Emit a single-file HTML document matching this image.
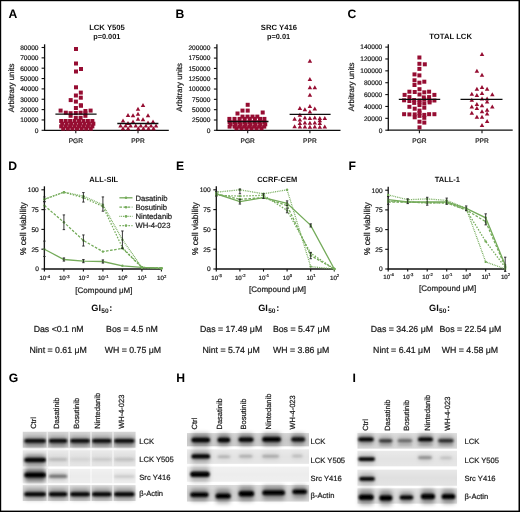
<!DOCTYPE html>
<html><head><meta charset="utf-8"><style>
html,body{margin:0;padding:0;background:#fff;width:520px;height:512px;overflow:hidden}
svg{display:block;will-change:transform}
text{text-rendering:geometricPrecision;font-family:'Liberation Sans',sans-serif}
text:not([font-weight]){stroke:#222;stroke-width:0.22px}
</style></head><body>
<svg width="520" height="512" viewBox="0 0 520 512">
<defs><filter id="soft" x="0" y="0" width="100%" height="100%" filterUnits="userSpaceOnUse"><feGaussianBlur stdDeviation="0.35"/></filter></defs>
<g filter="url(#soft)">
<rect x="0" y="0" width="520" height="512" fill="#000"/>
<rect x="1.2" y="1.2" width="517.3" height="509.4" fill="#fff"/>
<text x="8.6" y="17.6" font-size="12.2" text-anchor="start" font-weight="bold" fill="#000" >A</text>
<text x="175.6" y="17.6" font-size="12.2" text-anchor="start" font-weight="bold" fill="#000" >B</text>
<text x="347.4" y="17.6" font-size="12.2" text-anchor="start" font-weight="bold" fill="#000" >C</text>
<text x="8.2" y="169.6" font-size="12.2" text-anchor="start" font-weight="bold" fill="#000" >D</text>
<text x="176" y="169.6" font-size="12.2" text-anchor="start" font-weight="bold" fill="#000" >E</text>
<text x="348.4" y="169.6" font-size="12.2" text-anchor="start" font-weight="bold" fill="#000" >F</text>
<text x="8.8" y="382" font-size="12.2" text-anchor="start" font-weight="bold" fill="#000" >G</text>
<text x="176.2" y="382" font-size="12.2" text-anchor="start" font-weight="bold" fill="#000" >H</text>
<text x="352.4" y="381.6" font-size="12.2" text-anchor="start" font-weight="bold" fill="#000" >I</text>
<text x="107" y="30.4" font-size="7.7" text-anchor="middle" font-weight="bold" fill="#111" >LCK Y505</text>
<text x="106.8" y="39.4" font-size="7.4" text-anchor="middle" font-weight="bold" fill="#111" >p=0.001</text>
<line x1="44.6" y1="44.3" x2="44.6" y2="130.9" stroke="#111" stroke-width="1.3" />
<line x1="44.0" y1="130.3" x2="168.8" y2="130.3" stroke="#111" stroke-width="1.3" />
<line x1="41.6" y1="130.3" x2="44.6" y2="130.3" stroke="#111" stroke-width="1.1" />
<text x="38.5" y="132.60000000000002" font-size="6.6" text-anchor="end" fill="#222" >0</text>
<line x1="41.6" y1="119.95000000000002" x2="44.6" y2="119.95000000000002" stroke="#111" stroke-width="1.1" />
<text x="38.5" y="122.25000000000001" font-size="6.6" text-anchor="end" fill="#222" >10000</text>
<line x1="41.6" y1="109.60000000000001" x2="44.6" y2="109.60000000000001" stroke="#111" stroke-width="1.1" />
<text x="38.5" y="111.9" font-size="6.6" text-anchor="end" fill="#222" >20000</text>
<line x1="41.6" y1="99.25" x2="44.6" y2="99.25" stroke="#111" stroke-width="1.1" />
<text x="38.5" y="101.55" font-size="6.6" text-anchor="end" fill="#222" >30000</text>
<line x1="41.6" y1="88.9" x2="44.6" y2="88.9" stroke="#111" stroke-width="1.1" />
<text x="38.5" y="91.2" font-size="6.6" text-anchor="end" fill="#222" >40000</text>
<line x1="41.6" y1="78.55000000000001" x2="44.6" y2="78.55000000000001" stroke="#111" stroke-width="1.1" />
<text x="38.5" y="80.85000000000001" font-size="6.6" text-anchor="end" fill="#222" >50000</text>
<line x1="41.6" y1="68.2" x2="44.6" y2="68.2" stroke="#111" stroke-width="1.1" />
<text x="38.5" y="70.5" font-size="6.6" text-anchor="end" fill="#222" >60000</text>
<line x1="41.6" y1="57.849999999999994" x2="44.6" y2="57.849999999999994" stroke="#111" stroke-width="1.1" />
<text x="38.5" y="60.14999999999999" font-size="6.6" text-anchor="end" fill="#222" >70000</text>
<line x1="41.6" y1="47.5" x2="44.6" y2="47.5" stroke="#111" stroke-width="1.1" />
<text x="38.5" y="49.8" font-size="6.6" text-anchor="end" fill="#222" >80000</text>
<text x="0" y="0" font-size="7.9" text-anchor="middle" fill="#222" transform="translate(13.6,88) rotate(-90)">Arbitrary units</text>
<line x1="75.8" y1="130.3" x2="75.8" y2="133.3" stroke="#111" stroke-width="1.1" />
<line x1="138" y1="130.3" x2="138" y2="133.3" stroke="#111" stroke-width="1.1" />
<text x="75.8" y="142.8" font-size="6.6" text-anchor="middle" fill="#222" >PGR</text>
<text x="138" y="142.8" font-size="6.6" text-anchor="middle" fill="#222" >PPR</text>
<rect x="74.00" y="47.00" width="4" height="4" fill="#960e32"/>
<rect x="74.00" y="61.50" width="4" height="4" fill="#960e32"/>
<rect x="79.00" y="67.00" width="4" height="4" fill="#960e32"/>
<rect x="74.00" y="69.50" width="4" height="4" fill="#960e32"/>
<rect x="74.00" y="85.30" width="4" height="4" fill="#960e32"/>
<rect x="78.80" y="90.60" width="4" height="4" fill="#960e32"/>
<rect x="73.90" y="93.50" width="4" height="4" fill="#960e32"/>
<rect x="78.80" y="95.70" width="4" height="4" fill="#960e32"/>
<rect x="68.70" y="98.10" width="4" height="4" fill="#960e32"/>
<rect x="73.90" y="99.60" width="4" height="4" fill="#960e32"/>
<rect x="78.80" y="103.30" width="4" height="4" fill="#960e32"/>
<rect x="73.90" y="106.00" width="4" height="4" fill="#960e32"/>
<rect x="79.00" y="103.70" width="4" height="4" fill="#960e32"/>
<rect x="58.60" y="108.60" width="4" height="4" fill="#960e32"/>
<rect x="83.40" y="109.00" width="4" height="4" fill="#960e32"/>
<rect x="88.60" y="108.60" width="4" height="4" fill="#960e32"/>
<rect x="63.80" y="110.70" width="4" height="4" fill="#960e32"/>
<rect x="68.60" y="111.20" width="4" height="4" fill="#960e32"/>
<rect x="73.80" y="111.00" width="4" height="4" fill="#960e32"/>
<rect x="78.60" y="110.70" width="4" height="4" fill="#960e32"/>
<rect x="83.40" y="111.20" width="4" height="4" fill="#960e32"/>
<rect x="68.60" y="113.80" width="4" height="4" fill="#960e32"/>
<rect x="83.40" y="113.80" width="4" height="4" fill="#960e32"/>
<rect x="73.80" y="115.80" width="4" height="4" fill="#960e32"/>
<rect x="78.60" y="115.80" width="4" height="4" fill="#960e32"/>
<rect x="59.20" y="119.00" width="4" height="4" fill="#960e32"/>
<rect x="63.65" y="119.00" width="4" height="4" fill="#960e32"/>
<rect x="68.10" y="119.00" width="4" height="4" fill="#960e32"/>
<rect x="72.55" y="119.00" width="4" height="4" fill="#960e32"/>
<rect x="77.00" y="119.00" width="4" height="4" fill="#960e32"/>
<rect x="81.45" y="119.00" width="4" height="4" fill="#960e32"/>
<rect x="85.90" y="119.00" width="4" height="4" fill="#960e32"/>
<rect x="90.35" y="119.00" width="4" height="4" fill="#960e32"/>
<rect x="60.20" y="121.70" width="4" height="4" fill="#960e32"/>
<rect x="64.65" y="121.70" width="4" height="4" fill="#960e32"/>
<rect x="69.10" y="121.70" width="4" height="4" fill="#960e32"/>
<rect x="73.55" y="121.70" width="4" height="4" fill="#960e32"/>
<rect x="78.00" y="121.70" width="4" height="4" fill="#960e32"/>
<rect x="82.45" y="121.70" width="4" height="4" fill="#960e32"/>
<rect x="86.90" y="121.70" width="4" height="4" fill="#960e32"/>
<rect x="91.35" y="121.70" width="4" height="4" fill="#960e32"/>
<rect x="59.20" y="124.40" width="4" height="4" fill="#960e32"/>
<rect x="63.65" y="124.40" width="4" height="4" fill="#960e32"/>
<rect x="68.10" y="124.40" width="4" height="4" fill="#960e32"/>
<rect x="72.55" y="124.40" width="4" height="4" fill="#960e32"/>
<rect x="77.00" y="124.40" width="4" height="4" fill="#960e32"/>
<rect x="81.45" y="124.40" width="4" height="4" fill="#960e32"/>
<rect x="85.90" y="124.40" width="4" height="4" fill="#960e32"/>
<rect x="90.35" y="124.40" width="4" height="4" fill="#960e32"/>
<rect x="61.20" y="126.60" width="4" height="4" fill="#960e32"/>
<rect x="65.80" y="126.60" width="4" height="4" fill="#960e32"/>
<rect x="70.40" y="126.60" width="4" height="4" fill="#960e32"/>
<rect x="75.00" y="126.60" width="4" height="4" fill="#960e32"/>
<rect x="79.60" y="126.60" width="4" height="4" fill="#960e32"/>
<rect x="84.20" y="126.60" width="4" height="4" fill="#960e32"/>
<rect x="88.80" y="126.60" width="4" height="4" fill="#960e32"/>
<line x1="55.4" y1="114.2" x2="96.6" y2="114.2" stroke="#111" stroke-width="1.3" />
<path d="M140.75 107.03L143.00 102.97L145.25 107.03Z" fill="#960e32"/>
<path d="M135.75 110.83L138.00 106.77L140.25 110.83Z" fill="#960e32"/>
<path d="M125.75 117.03L128.00 112.97L130.25 117.03Z" fill="#960e32"/>
<path d="M130.75 117.33L133.00 113.27L135.25 117.33Z" fill="#960e32"/>
<path d="M135.75 115.83L138.00 111.77L140.25 115.83Z" fill="#960e32"/>
<path d="M145.75 117.33L148.00 113.27L150.25 117.33Z" fill="#960e32"/>
<path d="M120.75 122.43L123.00 118.38L125.25 122.43Z" fill="#960e32"/>
<path d="M135.75 120.83L138.00 116.77L140.25 120.83Z" fill="#960e32"/>
<path d="M140.75 121.33L143.00 117.27L145.25 121.33Z" fill="#960e32"/>
<path d="M125.75 125.03L128.00 120.97L130.25 125.03Z" fill="#960e32"/>
<path d="M145.75 124.43L148.00 120.38L150.25 124.43Z" fill="#960e32"/>
<path d="M130.75 123.53L133.00 119.47L135.25 123.53Z" fill="#960e32"/>
<path d="M150.75 123.53L153.00 119.47L155.25 123.53Z" fill="#960e32"/>
<path d="M118.25 127.62L120.50 123.57L122.75 127.62Z" fill="#960e32"/>
<path d="M123.35 127.62L125.60 123.57L127.85 127.62Z" fill="#960e32"/>
<path d="M128.35 127.62L130.60 123.57L132.85 127.62Z" fill="#960e32"/>
<path d="M133.45 127.62L135.70 123.57L137.95 127.62Z" fill="#960e32"/>
<path d="M138.55 127.62L140.80 123.57L143.05 127.62Z" fill="#960e32"/>
<path d="M143.65 127.62L145.90 123.57L148.15 127.62Z" fill="#960e32"/>
<path d="M148.75 127.62L151.00 123.57L153.25 127.62Z" fill="#960e32"/>
<path d="M153.75 127.62L156.00 123.57L158.25 127.62Z" fill="#960e32"/>
<path d="M120.75 130.22L123.00 126.17L125.25 130.22Z" fill="#960e32"/>
<path d="M125.85 130.22L128.10 126.17L130.35 130.22Z" fill="#960e32"/>
<path d="M136.05 130.22L138.30 126.17L140.55 130.22Z" fill="#960e32"/>
<path d="M141.15 130.22L143.40 126.17L145.65 130.22Z" fill="#960e32"/>
<path d="M146.25 130.22L148.50 126.17L150.75 130.22Z" fill="#960e32"/>
<path d="M151.25 130.22L153.50 126.17L155.75 130.22Z" fill="#960e32"/>
<line x1="117.3" y1="123.5" x2="158.4" y2="123.5" stroke="#111" stroke-width="1.3" />
<text x="278.9" y="30.4" font-size="7.7" text-anchor="middle" font-weight="bold" fill="#111" >SRC Y416</text>
<text x="278.5" y="39.4" font-size="7.4" text-anchor="middle" font-weight="bold" fill="#111" >p=0.01</text>
<line x1="216.9" y1="44.3" x2="216.9" y2="130.9" stroke="#111" stroke-width="1.3" />
<line x1="216.3" y1="130.3" x2="340.5" y2="130.3" stroke="#111" stroke-width="1.3" />
<line x1="213.9" y1="130.3" x2="216.9" y2="130.3" stroke="#111" stroke-width="1.1" />
<text x="210.4" y="132.60000000000002" font-size="6.6" text-anchor="end" fill="#222" >0</text>
<line x1="213.9" y1="119.98750000000001" x2="216.9" y2="119.98750000000001" stroke="#111" stroke-width="1.1" />
<text x="210.4" y="122.28750000000001" font-size="6.6" text-anchor="end" fill="#222" >25000</text>
<line x1="213.9" y1="109.67500000000001" x2="216.9" y2="109.67500000000001" stroke="#111" stroke-width="1.1" />
<text x="210.4" y="111.97500000000001" font-size="6.6" text-anchor="end" fill="#222" >50000</text>
<line x1="213.9" y1="99.36250000000001" x2="216.9" y2="99.36250000000001" stroke="#111" stroke-width="1.1" />
<text x="210.4" y="101.66250000000001" font-size="6.6" text-anchor="end" fill="#222" >75000</text>
<line x1="213.9" y1="89.05000000000001" x2="216.9" y2="89.05000000000001" stroke="#111" stroke-width="1.1" />
<text x="210.4" y="91.35000000000001" font-size="6.6" text-anchor="end" fill="#222" >100000</text>
<line x1="213.9" y1="78.73750000000001" x2="216.9" y2="78.73750000000001" stroke="#111" stroke-width="1.1" />
<text x="210.4" y="81.03750000000001" font-size="6.6" text-anchor="end" fill="#222" >125000</text>
<line x1="213.9" y1="68.425" x2="216.9" y2="68.425" stroke="#111" stroke-width="1.1" />
<text x="210.4" y="70.725" font-size="6.6" text-anchor="end" fill="#222" >150000</text>
<line x1="213.9" y1="58.1125" x2="216.9" y2="58.1125" stroke="#111" stroke-width="1.1" />
<text x="210.4" y="60.412499999999994" font-size="6.6" text-anchor="end" fill="#222" >175000</text>
<line x1="213.9" y1="47.8" x2="216.9" y2="47.8" stroke="#111" stroke-width="1.1" />
<text x="210.4" y="50.099999999999994" font-size="6.6" text-anchor="end" fill="#222" >200000</text>
<text x="0" y="0" font-size="7.9" text-anchor="middle" fill="#222" transform="translate(181.9,87.4) rotate(-90)">Arbitrary units</text>
<line x1="247.7" y1="130.3" x2="247.7" y2="133.3" stroke="#111" stroke-width="1.1" />
<line x1="309.9" y1="130.3" x2="309.9" y2="133.3" stroke="#111" stroke-width="1.1" />
<text x="247.7" y="142.8" font-size="6.6" text-anchor="middle" fill="#222" >PGR</text>
<text x="309.9" y="142.8" font-size="6.6" text-anchor="middle" fill="#222" >PPR</text>
<rect x="245.70" y="102.80" width="4" height="4" fill="#960e32"/>
<rect x="240.50" y="108.60" width="4" height="4" fill="#960e32"/>
<rect x="245.70" y="108.60" width="4" height="4" fill="#960e32"/>
<rect x="235.50" y="111.50" width="4" height="4" fill="#960e32"/>
<rect x="260.70" y="110.50" width="4" height="4" fill="#960e32"/>
<rect x="240.50" y="114.60" width="4" height="4" fill="#960e32"/>
<rect x="245.50" y="114.60" width="4" height="4" fill="#960e32"/>
<rect x="250.50" y="114.60" width="4" height="4" fill="#960e32"/>
<rect x="255.30" y="114.60" width="4" height="4" fill="#960e32"/>
<rect x="227.40" y="116.90" width="4" height="4" fill="#960e32"/>
<rect x="232.50" y="116.90" width="4" height="4" fill="#960e32"/>
<rect x="237.60" y="116.90" width="4" height="4" fill="#960e32"/>
<rect x="242.70" y="116.90" width="4" height="4" fill="#960e32"/>
<rect x="247.80" y="116.90" width="4" height="4" fill="#960e32"/>
<rect x="252.90" y="116.90" width="4" height="4" fill="#960e32"/>
<rect x="258.00" y="116.90" width="4" height="4" fill="#960e32"/>
<rect x="262.40" y="116.90" width="4" height="4" fill="#960e32"/>
<rect x="227.60" y="120.00" width="4" height="4" fill="#960e32"/>
<rect x="232.55" y="120.00" width="4" height="4" fill="#960e32"/>
<rect x="237.50" y="120.00" width="4" height="4" fill="#960e32"/>
<rect x="242.45" y="120.00" width="4" height="4" fill="#960e32"/>
<rect x="247.40" y="120.00" width="4" height="4" fill="#960e32"/>
<rect x="252.35" y="120.00" width="4" height="4" fill="#960e32"/>
<rect x="257.30" y="120.00" width="4" height="4" fill="#960e32"/>
<rect x="262.25" y="120.00" width="4" height="4" fill="#960e32"/>
<rect x="228.60" y="122.30" width="4" height="4" fill="#960e32"/>
<rect x="233.55" y="122.30" width="4" height="4" fill="#960e32"/>
<rect x="238.50" y="122.30" width="4" height="4" fill="#960e32"/>
<rect x="243.45" y="122.30" width="4" height="4" fill="#960e32"/>
<rect x="248.40" y="122.30" width="4" height="4" fill="#960e32"/>
<rect x="253.35" y="122.30" width="4" height="4" fill="#960e32"/>
<rect x="258.30" y="122.30" width="4" height="4" fill="#960e32"/>
<rect x="263.25" y="122.30" width="4" height="4" fill="#960e32"/>
<rect x="227.60" y="124.60" width="4" height="4" fill="#960e32"/>
<rect x="232.55" y="124.60" width="4" height="4" fill="#960e32"/>
<rect x="237.50" y="124.60" width="4" height="4" fill="#960e32"/>
<rect x="242.45" y="124.60" width="4" height="4" fill="#960e32"/>
<rect x="247.40" y="124.60" width="4" height="4" fill="#960e32"/>
<rect x="252.35" y="124.60" width="4" height="4" fill="#960e32"/>
<rect x="257.30" y="124.60" width="4" height="4" fill="#960e32"/>
<rect x="262.25" y="124.60" width="4" height="4" fill="#960e32"/>
<rect x="234.50" y="126.20" width="4" height="4" fill="#960e32"/>
<rect x="239.50" y="126.20" width="4" height="4" fill="#960e32"/>
<rect x="244.50" y="126.20" width="4" height="4" fill="#960e32"/>
<rect x="249.50" y="126.20" width="4" height="4" fill="#960e32"/>
<rect x="254.50" y="126.20" width="4" height="4" fill="#960e32"/>
<rect x="259.50" y="126.20" width="4" height="4" fill="#960e32"/>
<line x1="227.5" y1="121.5" x2="268.5" y2="121.5" stroke="#111" stroke-width="1.3" />
<path d="M307.65 62.82L309.90 58.77L312.15 62.82Z" fill="#960e32"/>
<path d="M307.65 81.03L309.90 76.97L312.15 81.03Z" fill="#960e32"/>
<path d="M307.65 89.33L309.90 85.27L312.15 89.33Z" fill="#960e32"/>
<path d="M312.55 89.33L314.80 85.27L317.05 89.33Z" fill="#960e32"/>
<path d="M307.65 96.83L309.90 92.77L312.15 96.83Z" fill="#960e32"/>
<path d="M307.65 108.03L309.90 103.97L312.15 108.03Z" fill="#960e32"/>
<path d="M297.65 110.03L299.90 105.97L302.15 110.03Z" fill="#960e32"/>
<path d="M302.65 111.23L304.90 107.17L307.15 111.23Z" fill="#960e32"/>
<path d="M312.55 110.43L314.80 106.38L317.05 110.43Z" fill="#960e32"/>
<path d="M307.65 113.43L309.90 109.38L312.15 113.43Z" fill="#960e32"/>
<path d="M297.65 116.73L299.90 112.67L302.15 116.73Z" fill="#960e32"/>
<path d="M292.35 120.83L294.60 116.77L296.85 120.83Z" fill="#960e32"/>
<path d="M297.65 121.53L299.90 117.47L302.15 121.53Z" fill="#960e32"/>
<path d="M302.65 119.62L304.90 115.57L307.15 119.62Z" fill="#960e32"/>
<path d="M307.65 119.93L309.90 115.88L312.15 119.93Z" fill="#960e32"/>
<path d="M312.55 119.62L314.80 115.57L317.05 119.62Z" fill="#960e32"/>
<path d="M317.55 119.93L319.80 115.88L322.05 119.93Z" fill="#960e32"/>
<path d="M322.55 119.93L324.80 115.88L327.05 119.93Z" fill="#960e32"/>
<path d="M317.55 122.23L319.80 118.17L322.05 122.23Z" fill="#960e32"/>
<path d="M297.65 125.03L299.90 120.97L302.15 125.03Z" fill="#960e32"/>
<path d="M302.65 124.53L304.90 120.47L307.15 124.53Z" fill="#960e32"/>
<path d="M307.65 124.73L309.90 120.67L312.15 124.73Z" fill="#960e32"/>
<path d="M312.55 124.53L314.80 120.47L317.05 124.53Z" fill="#960e32"/>
<path d="M317.55 125.03L319.80 120.97L322.05 125.03Z" fill="#960e32"/>
<path d="M292.35 128.32L294.60 124.27L296.85 128.32Z" fill="#960e32"/>
<path d="M297.65 128.62L299.90 124.57L302.15 128.62Z" fill="#960e32"/>
<path d="M302.65 128.62L304.90 124.57L307.15 128.62Z" fill="#960e32"/>
<path d="M307.65 128.82L309.90 124.77L312.15 128.82Z" fill="#960e32"/>
<path d="M312.55 128.62L314.80 124.57L317.05 128.62Z" fill="#960e32"/>
<path d="M317.55 128.82L319.80 124.77L322.05 128.82Z" fill="#960e32"/>
<path d="M322.55 128.62L324.80 124.57L327.05 128.62Z" fill="#960e32"/>
<line x1="289.6" y1="114.3" x2="330.6" y2="114.3" stroke="#111" stroke-width="1.3" />
<text x="450.6" y="39.4" font-size="7.7" text-anchor="middle" font-weight="bold" fill="#111" >TOTAL LCK</text>
<line x1="388.3" y1="44.3" x2="388.3" y2="130.79999999999998" stroke="#111" stroke-width="1.3" />
<line x1="387.7" y1="130.2" x2="512.7" y2="130.2" stroke="#111" stroke-width="1.3" />
<line x1="385.3" y1="130.2" x2="388.3" y2="130.2" stroke="#111" stroke-width="1.1" />
<text x="382.3" y="132.5" font-size="6.6" text-anchor="end" fill="#222" >0</text>
<line x1="385.3" y1="118.32857142857142" x2="388.3" y2="118.32857142857142" stroke="#111" stroke-width="1.1" />
<text x="382.3" y="120.62857142857142" font-size="6.6" text-anchor="end" fill="#222" >20000</text>
<line x1="385.3" y1="106.45714285714286" x2="388.3" y2="106.45714285714286" stroke="#111" stroke-width="1.1" />
<text x="382.3" y="108.75714285714285" font-size="6.6" text-anchor="end" fill="#222" >40000</text>
<line x1="385.3" y1="94.58571428571427" x2="388.3" y2="94.58571428571427" stroke="#111" stroke-width="1.1" />
<text x="382.3" y="96.88571428571427" font-size="6.6" text-anchor="end" fill="#222" >60000</text>
<line x1="385.3" y1="82.71428571428571" x2="388.3" y2="82.71428571428571" stroke="#111" stroke-width="1.1" />
<text x="382.3" y="85.0142857142857" font-size="6.6" text-anchor="end" fill="#222" >80000</text>
<line x1="385.3" y1="70.84285714285713" x2="388.3" y2="70.84285714285713" stroke="#111" stroke-width="1.1" />
<text x="382.3" y="73.14285714285712" font-size="6.6" text-anchor="end" fill="#222" >100000</text>
<line x1="385.3" y1="58.97142857142856" x2="388.3" y2="58.97142857142856" stroke="#111" stroke-width="1.1" />
<text x="382.3" y="61.27142857142856" font-size="6.6" text-anchor="end" fill="#222" >120000</text>
<line x1="385.3" y1="47.099999999999994" x2="388.3" y2="47.099999999999994" stroke="#111" stroke-width="1.1" />
<text x="382.3" y="49.39999999999999" font-size="6.6" text-anchor="end" fill="#222" >140000</text>
<text x="0" y="0" font-size="7.9" text-anchor="middle" fill="#222" transform="translate(353.6,87) rotate(-90)">Arbitrary units</text>
<line x1="419.4" y1="130.2" x2="419.4" y2="133.2" stroke="#111" stroke-width="1.1" />
<line x1="482" y1="130.2" x2="482" y2="133.2" stroke="#111" stroke-width="1.1" />
<text x="419.4" y="142.8" font-size="6.6" text-anchor="middle" fill="#222" >PGR</text>
<text x="482" y="142.8" font-size="6.6" text-anchor="middle" fill="#222" >PPR</text>
<rect x="417.40" y="55.50" width="4" height="4" fill="#960e32"/>
<rect x="417.40" y="61.80" width="4" height="4" fill="#960e32"/>
<rect x="422.80" y="62.30" width="4" height="4" fill="#960e32"/>
<rect x="417.40" y="66.90" width="4" height="4" fill="#960e32"/>
<rect x="412.50" y="72.40" width="4" height="4" fill="#960e32"/>
<rect x="417.40" y="73.40" width="4" height="4" fill="#960e32"/>
<rect x="412.50" y="78.30" width="4" height="4" fill="#960e32"/>
<rect x="417.40" y="80.70" width="4" height="4" fill="#960e32"/>
<rect x="422.30" y="79.70" width="4" height="4" fill="#960e32"/>
<rect x="412.50" y="83.00" width="4" height="4" fill="#960e32"/>
<rect x="417.50" y="87.20" width="4" height="4" fill="#960e32"/>
<rect x="407.40" y="89.70" width="4" height="4" fill="#960e32"/>
<rect x="412.70" y="90.00" width="4" height="4" fill="#960e32"/>
<rect x="422.30" y="90.30" width="4" height="4" fill="#960e32"/>
<rect x="427.10" y="89.70" width="4" height="4" fill="#960e32"/>
<rect x="417.50" y="92.50" width="4" height="4" fill="#960e32"/>
<rect x="402.60" y="92.90" width="4" height="4" fill="#960e32"/>
<rect x="432.40" y="92.90" width="4" height="4" fill="#960e32"/>
<rect x="407.40" y="95.10" width="4" height="4" fill="#960e32"/>
<rect x="421.80" y="95.40" width="4" height="4" fill="#960e32"/>
<rect x="427.10" y="95.10" width="4" height="4" fill="#960e32"/>
<rect x="402.10" y="98.30" width="4" height="4" fill="#960e32"/>
<rect x="407.40" y="99.00" width="4" height="4" fill="#960e32"/>
<rect x="412.20" y="98.00" width="4" height="4" fill="#960e32"/>
<rect x="417.50" y="98.50" width="4" height="4" fill="#960e32"/>
<rect x="422.30" y="97.50" width="4" height="4" fill="#960e32"/>
<rect x="427.60" y="98.50" width="4" height="4" fill="#960e32"/>
<rect x="432.40" y="98.50" width="4" height="4" fill="#960e32"/>
<rect x="412.20" y="100.90" width="4" height="4" fill="#960e32"/>
<rect x="417.50" y="100.40" width="4" height="4" fill="#960e32"/>
<rect x="427.60" y="100.40" width="4" height="4" fill="#960e32"/>
<rect x="422.30" y="101.40" width="4" height="4" fill="#960e32"/>
<rect x="417.50" y="103.10" width="4" height="4" fill="#960e32"/>
<rect x="407.40" y="104.80" width="4" height="4" fill="#960e32"/>
<rect x="422.30" y="105.70" width="4" height="4" fill="#960e32"/>
<rect x="412.70" y="106.70" width="4" height="4" fill="#960e32"/>
<rect x="417.50" y="108.60" width="4" height="4" fill="#960e32"/>
<rect x="402.10" y="112.20" width="4" height="4" fill="#960e32"/>
<rect x="407.40" y="112.40" width="4" height="4" fill="#960e32"/>
<rect x="412.70" y="112.40" width="4" height="4" fill="#960e32"/>
<rect x="417.50" y="111.20" width="4" height="4" fill="#960e32"/>
<rect x="422.30" y="112.90" width="4" height="4" fill="#960e32"/>
<rect x="427.10" y="112.20" width="4" height="4" fill="#960e32"/>
<rect x="432.40" y="112.20" width="4" height="4" fill="#960e32"/>
<rect x="412.70" y="115.30" width="4" height="4" fill="#960e32"/>
<rect x="417.50" y="113.90" width="4" height="4" fill="#960e32"/>
<rect x="422.30" y="115.80" width="4" height="4" fill="#960e32"/>
<rect x="417.50" y="119.70" width="4" height="4" fill="#960e32"/>
<rect x="422.30" y="120.60" width="4" height="4" fill="#960e32"/>
<rect x="417.50" y="125.40" width="4" height="4" fill="#960e32"/>
<line x1="398.8" y1="99.3" x2="440.2" y2="99.3" stroke="#111" stroke-width="1.3" />
<path d="M479.75 55.92L482.00 51.88L484.25 55.92Z" fill="#960e32"/>
<path d="M474.65 72.73L476.90 68.67L479.15 72.73Z" fill="#960e32"/>
<path d="M479.75 76.83L482.00 72.77L484.25 76.83Z" fill="#960e32"/>
<path d="M474.65 90.83L476.90 86.77L479.15 90.83Z" fill="#960e32"/>
<path d="M479.75 89.12L482.00 85.07L484.25 89.12Z" fill="#960e32"/>
<path d="M484.85 90.83L487.10 86.77L489.35 90.83Z" fill="#960e32"/>
<path d="M469.55 95.73L471.80 91.67L474.05 95.73Z" fill="#960e32"/>
<path d="M474.65 96.93L476.90 92.88L479.15 96.93Z" fill="#960e32"/>
<path d="M479.75 94.93L482.00 90.88L484.25 94.93Z" fill="#960e32"/>
<path d="M490.05 96.33L492.30 92.27L494.55 96.33Z" fill="#960e32"/>
<path d="M469.55 101.83L471.80 97.77L474.05 101.83Z" fill="#960e32"/>
<path d="M479.75 100.43L482.00 96.38L484.25 100.43Z" fill="#960e32"/>
<path d="M484.85 100.43L487.10 96.38L489.35 100.43Z" fill="#960e32"/>
<path d="M484.85 103.53L487.10 99.47L489.35 103.53Z" fill="#960e32"/>
<path d="M469.55 108.62L471.80 104.57L474.05 108.62Z" fill="#960e32"/>
<path d="M474.65 105.93L476.90 101.88L479.15 105.93Z" fill="#960e32"/>
<path d="M479.75 107.23L482.00 103.17L484.25 107.23Z" fill="#960e32"/>
<path d="M490.05 108.62L492.30 104.57L494.55 108.62Z" fill="#960e32"/>
<path d="M474.65 110.03L476.90 105.97L479.15 110.03Z" fill="#960e32"/>
<path d="M484.85 111.73L487.10 107.67L489.35 111.73Z" fill="#960e32"/>
<path d="M469.55 114.73L471.80 110.67L474.05 114.73Z" fill="#960e32"/>
<path d="M479.75 113.33L482.00 109.27L484.25 113.33Z" fill="#960e32"/>
<path d="M484.85 115.43L487.10 111.38L489.35 115.43Z" fill="#960e32"/>
<path d="M474.65 118.83L476.90 114.77L479.15 118.83Z" fill="#960e32"/>
<path d="M479.75 118.83L482.00 114.77L484.25 118.83Z" fill="#960e32"/>
<path d="M484.85 123.03L487.10 118.97L489.35 123.03Z" fill="#960e32"/>
<path d="M479.75 127.03L482.00 122.97L484.25 127.03Z" fill="#960e32"/>
<line x1="460.5" y1="99.4" x2="502.5" y2="99.4" stroke="#111" stroke-width="1.3" />
<line x1="44.4" y1="186.3" x2="44.4" y2="269.6" stroke="#111" stroke-width="1.3" />
<line x1="43.8" y1="269.0" x2="161.9" y2="269.0" stroke="#111" stroke-width="1.3" />
<line x1="41.4" y1="269.0" x2="44.4" y2="269.0" stroke="#111" stroke-width="1.1" />
<text x="38.8" y="271.3" font-size="6.6" text-anchor="end" fill="#222" >0</text>
<line x1="41.4" y1="249.2" x2="44.4" y2="249.2" stroke="#111" stroke-width="1.1" />
<text x="38.8" y="251.5" font-size="6.6" text-anchor="end" fill="#222" >25</text>
<line x1="41.4" y1="229.4" x2="44.4" y2="229.4" stroke="#111" stroke-width="1.1" />
<text x="38.8" y="231.70000000000002" font-size="6.6" text-anchor="end" fill="#222" >50</text>
<line x1="41.4" y1="209.60000000000002" x2="44.4" y2="209.60000000000002" stroke="#111" stroke-width="1.1" />
<text x="38.8" y="211.90000000000003" font-size="6.6" text-anchor="end" fill="#222" >75</text>
<line x1="41.4" y1="189.8" x2="44.4" y2="189.8" stroke="#111" stroke-width="1.1" />
<text x="38.8" y="192.10000000000002" font-size="6.6" text-anchor="end" fill="#222" >100</text>
<line x1="44.4" y1="269.0" x2="44.4" y2="271.6" stroke="#111" stroke-width="1.1" />
<text x="44.699999999999996" y="280.4" font-size="6.2" text-anchor="middle" fill="#222">10<tspan font-size="4.2" dy="-2.8">-4</tspan></text>
<line x1="63.9" y1="269.0" x2="63.9" y2="271.6" stroke="#111" stroke-width="1.1" />
<text x="64.2" y="280.4" font-size="6.2" text-anchor="middle" fill="#222">10<tspan font-size="4.2" dy="-2.8">-3</tspan></text>
<line x1="83.4" y1="269.0" x2="83.4" y2="271.6" stroke="#111" stroke-width="1.1" />
<text x="83.7" y="280.4" font-size="6.2" text-anchor="middle" fill="#222">10<tspan font-size="4.2" dy="-2.8">-2</tspan></text>
<line x1="102.9" y1="269.0" x2="102.9" y2="271.6" stroke="#111" stroke-width="1.1" />
<text x="103.2" y="280.4" font-size="6.2" text-anchor="middle" fill="#222">10<tspan font-size="4.2" dy="-2.8">-1</tspan></text>
<line x1="122.4" y1="269.0" x2="122.4" y2="271.6" stroke="#111" stroke-width="1.1" />
<text x="122.7" y="280.4" font-size="6.2" text-anchor="middle" fill="#222">10<tspan font-size="4.2" dy="-2.8">0</tspan></text>
<line x1="141.9" y1="269.0" x2="141.9" y2="271.6" stroke="#111" stroke-width="1.1" />
<text x="142.20000000000002" y="280.4" font-size="6.2" text-anchor="middle" fill="#222">10<tspan font-size="4.2" dy="-2.8">1</tspan></text>
<line x1="161.4" y1="269.0" x2="161.4" y2="271.6" stroke="#111" stroke-width="1.1" />
<text x="161.70000000000002" y="280.4" font-size="6.2" text-anchor="middle" fill="#222">10<tspan font-size="4.2" dy="-2.8">2</tspan></text>
<text x="103.9" y="293.0" font-size="8.0" text-anchor="middle" fill="#222" >[Compound μM]</text>
<text x="0" y="0" font-size="8.5" text-anchor="middle" fill="#222" transform="translate(26.2,228.6) rotate(-90)">% cell viability</text>
<text x="103.7" y="182.3" font-size="7.5" text-anchor="middle" font-weight="bold" fill="#111" >ALL-SIL</text>
<path d="M44.4 249.2L63.9 259.5L83.4 261.1L102.9 261.5L122.4 265.8L141.9 267.4L161.4 268.2" fill="none" stroke="#74ab5a" stroke-width="1.3"/>
<circle cx="44.4" cy="249.2" r="1.2" fill="#74ab5a"/>
<circle cx="63.9" cy="259.5" r="1.2" fill="#74ab5a"/>
<circle cx="83.4" cy="261.1" r="1.2" fill="#74ab5a"/>
<circle cx="102.9" cy="261.5" r="1.2" fill="#74ab5a"/>
<circle cx="122.4" cy="265.8" r="1.2" fill="#74ab5a"/>
<circle cx="141.9" cy="267.4" r="1.2" fill="#74ab5a"/>
<circle cx="161.4" cy="268.2" r="1.2" fill="#74ab5a"/>
<path d="M44.4 205.6L63.9 222.3L83.4 240.5L102.9 251.6L122.4 248.4L141.9 267.4L161.4 268.2" fill="none" stroke="#74ab5a" stroke-width="1.3" stroke-dasharray="2.6,1.5"/>
<circle cx="44.4" cy="205.6" r="1.2" fill="#74ab5a"/>
<circle cx="63.9" cy="222.3" r="1.2" fill="#74ab5a"/>
<circle cx="83.4" cy="240.5" r="1.2" fill="#74ab5a"/>
<circle cx="102.9" cy="251.6" r="1.2" fill="#74ab5a"/>
<circle cx="122.4" cy="248.4" r="1.2" fill="#74ab5a"/>
<circle cx="141.9" cy="267.4" r="1.2" fill="#74ab5a"/>
<circle cx="161.4" cy="268.2" r="1.2" fill="#74ab5a"/>
<path d="M44.4 199.3L63.9 192.2L83.4 196.1L102.9 204.8L122.4 239.7L141.9 267.4L161.4 268.2" fill="none" stroke="#74ab5a" stroke-width="1.3" stroke-dasharray="0.9,0.9"/>
<circle cx="44.4" cy="199.3" r="1.2" fill="#74ab5a"/>
<circle cx="63.9" cy="192.2" r="1.2" fill="#74ab5a"/>
<circle cx="83.4" cy="196.1" r="1.2" fill="#74ab5a"/>
<circle cx="102.9" cy="204.8" r="1.2" fill="#74ab5a"/>
<circle cx="122.4" cy="239.7" r="1.2" fill="#74ab5a"/>
<circle cx="141.9" cy="267.4" r="1.2" fill="#74ab5a"/>
<circle cx="161.4" cy="268.2" r="1.2" fill="#74ab5a"/>
<path d="M44.4 199.3L63.9 192.2L83.4 197.7L102.9 206.4L122.4 247.6L141.9 267.4L161.4 268.2" fill="none" stroke="#74ab5a" stroke-width="1.3" stroke-dasharray="1.5,1.5"/>
<circle cx="44.4" cy="199.3" r="1.2" fill="#74ab5a"/>
<circle cx="63.9" cy="192.2" r="1.2" fill="#74ab5a"/>
<circle cx="83.4" cy="197.7" r="1.2" fill="#74ab5a"/>
<circle cx="102.9" cy="206.4" r="1.2" fill="#74ab5a"/>
<circle cx="122.4" cy="247.6" r="1.2" fill="#74ab5a"/>
<circle cx="141.9" cy="267.4" r="1.2" fill="#74ab5a"/>
<circle cx="161.4" cy="268.2" r="1.2" fill="#74ab5a"/>
<line x1="44.4" y1="241.1216" x2="44.4" y2="256.4864" stroke="#222" stroke-width="0.9" />
<line x1="43.199999999999996" y1="241.1216" x2="45.6" y2="241.1216" stroke="#222" stroke-width="0.9" />
<line x1="43.199999999999996" y1="256.4864" x2="45.6" y2="256.4864" stroke="#222" stroke-width="0.9" />
<line x1="63.9" y1="257.912" x2="63.9" y2="261.08" stroke="#222" stroke-width="0.9" />
<line x1="62.699999999999996" y1="257.912" x2="65.1" y2="257.912" stroke="#222" stroke-width="0.9" />
<line x1="62.699999999999996" y1="261.08" x2="65.1" y2="261.08" stroke="#222" stroke-width="0.9" />
<line x1="83.4" y1="259.496" x2="83.4" y2="262.664" stroke="#222" stroke-width="0.9" />
<line x1="82.2" y1="259.496" x2="84.60000000000001" y2="259.496" stroke="#222" stroke-width="0.9" />
<line x1="82.2" y1="262.664" x2="84.60000000000001" y2="262.664" stroke="#222" stroke-width="0.9" />
<line x1="102.9" y1="259.892" x2="102.9" y2="263.06" stroke="#222" stroke-width="0.9" />
<line x1="101.7" y1="259.892" x2="104.10000000000001" y2="259.892" stroke="#222" stroke-width="0.9" />
<line x1="101.7" y1="263.06" x2="104.10000000000001" y2="263.06" stroke="#222" stroke-width="0.9" />
<line x1="63.9" y1="214.90640000000002" x2="63.9" y2="229.6376" stroke="#222" stroke-width="0.9" />
<line x1="62.699999999999996" y1="214.90640000000002" x2="65.1" y2="214.90640000000002" stroke="#222" stroke-width="0.9" />
<line x1="62.699999999999996" y1="229.6376" x2="65.1" y2="229.6376" stroke="#222" stroke-width="0.9" />
<line x1="83.4" y1="234.94400000000002" x2="83.4" y2="246.032" stroke="#222" stroke-width="0.9" />
<line x1="82.2" y1="234.94400000000002" x2="84.60000000000001" y2="234.94400000000002" stroke="#222" stroke-width="0.9" />
<line x1="82.2" y1="246.032" x2="84.60000000000001" y2="246.032" stroke="#222" stroke-width="0.9" />
<line x1="83.4" y1="192.572" x2="83.4" y2="202.07600000000002" stroke="#222" stroke-width="0.9" />
<line x1="82.2" y1="192.572" x2="84.60000000000001" y2="192.572" stroke="#222" stroke-width="0.9" />
<line x1="82.2" y1="202.07600000000002" x2="84.60000000000001" y2="202.07600000000002" stroke="#222" stroke-width="0.9" />
<line x1="102.9" y1="196.928" x2="102.9" y2="211.184" stroke="#222" stroke-width="0.9" />
<line x1="101.7" y1="196.928" x2="104.10000000000001" y2="196.928" stroke="#222" stroke-width="0.9" />
<line x1="101.7" y1="211.184" x2="104.10000000000001" y2="211.184" stroke="#222" stroke-width="0.9" />
<line x1="122.4" y1="230.984" x2="122.4" y2="248.40800000000002" stroke="#222" stroke-width="0.9" />
<line x1="121.2" y1="230.984" x2="123.60000000000001" y2="230.984" stroke="#222" stroke-width="0.9" />
<line x1="121.2" y1="248.40800000000002" x2="123.60000000000001" y2="248.40800000000002" stroke="#222" stroke-width="0.9" />
<line x1="44.4" y1="201.68" x2="44.4" y2="209.60000000000002" stroke="#222" stroke-width="0.9" />
<line x1="43.199999999999996" y1="201.68" x2="45.6" y2="201.68" stroke="#222" stroke-width="0.9" />
<line x1="43.199999999999996" y1="209.60000000000002" x2="45.6" y2="209.60000000000002" stroke="#222" stroke-width="0.9" />
<line x1="44.4" y1="196.928" x2="44.4" y2="201.68" stroke="#222" stroke-width="0.9" />
<line x1="43.199999999999996" y1="196.928" x2="45.6" y2="196.928" stroke="#222" stroke-width="0.9" />
<line x1="43.199999999999996" y1="201.68" x2="45.6" y2="201.68" stroke="#222" stroke-width="0.9" />
<line x1="119.4" y1="197.8" x2="132.5" y2="197.8" stroke="#74ab5a" stroke-width="1.3"/>
<circle cx="126" cy="197.8" r="1.3" fill="#74ab5a"/>
<text x="135.4" y="200.5" font-size="7.7" text-anchor="start" fill="#222" >Dasatinib</text>
<line x1="119.4" y1="207.2" x2="132.5" y2="207.2" stroke="#74ab5a" stroke-width="1.3" stroke-dasharray="2.6,1.5"/>
<circle cx="126" cy="207.2" r="1.3" fill="#74ab5a"/>
<text x="135.4" y="209.89999999999998" font-size="7.7" text-anchor="start" fill="#222" >Bosutinib</text>
<line x1="119.4" y1="216.4" x2="132.5" y2="216.4" stroke="#74ab5a" stroke-width="1.3" stroke-dasharray="0.9,0.9"/>
<circle cx="126" cy="216.4" r="1.3" fill="#74ab5a"/>
<text x="135.4" y="219.1" font-size="7.7" text-anchor="start" fill="#222" >Nintedanib</text>
<line x1="119.4" y1="225.6" x2="132.5" y2="225.6" stroke="#74ab5a" stroke-width="1.3" stroke-dasharray="1.5,1.5"/>
<circle cx="126" cy="225.6" r="1.3" fill="#74ab5a"/>
<text x="135.4" y="228.29999999999998" font-size="7.7" text-anchor="start" fill="#222" >WH-4-023</text>
<line x1="216.3" y1="186.3" x2="216.3" y2="269.6" stroke="#111" stroke-width="1.3" />
<line x1="215.70000000000002" y1="269.0" x2="334.8" y2="269.0" stroke="#111" stroke-width="1.3" />
<line x1="213.3" y1="269.0" x2="216.3" y2="269.0" stroke="#111" stroke-width="1.1" />
<text x="210.70000000000002" y="271.3" font-size="6.6" text-anchor="end" fill="#222" >0</text>
<line x1="213.3" y1="249.2" x2="216.3" y2="249.2" stroke="#111" stroke-width="1.1" />
<text x="210.70000000000002" y="251.5" font-size="6.6" text-anchor="end" fill="#222" >25</text>
<line x1="213.3" y1="229.4" x2="216.3" y2="229.4" stroke="#111" stroke-width="1.1" />
<text x="210.70000000000002" y="231.70000000000002" font-size="6.6" text-anchor="end" fill="#222" >50</text>
<line x1="213.3" y1="209.60000000000002" x2="216.3" y2="209.60000000000002" stroke="#111" stroke-width="1.1" />
<text x="210.70000000000002" y="211.90000000000003" font-size="6.6" text-anchor="end" fill="#222" >75</text>
<line x1="213.3" y1="189.8" x2="216.3" y2="189.8" stroke="#111" stroke-width="1.1" />
<text x="210.70000000000002" y="192.10000000000002" font-size="6.6" text-anchor="end" fill="#222" >100</text>
<line x1="216.3" y1="269.0" x2="216.3" y2="271.6" stroke="#111" stroke-width="1.1" />
<text x="216.60000000000002" y="279.5" font-size="6.2" text-anchor="middle" fill="#222">10<tspan font-size="4.2" dy="-2.8">-3</tspan></text>
<line x1="239.9" y1="269.0" x2="239.9" y2="271.6" stroke="#111" stroke-width="1.1" />
<text x="240.20000000000002" y="279.5" font-size="6.2" text-anchor="middle" fill="#222">10<tspan font-size="4.2" dy="-2.8">-2</tspan></text>
<line x1="263.5" y1="269.0" x2="263.5" y2="271.6" stroke="#111" stroke-width="1.1" />
<text x="263.8" y="279.5" font-size="6.2" text-anchor="middle" fill="#222">10<tspan font-size="4.2" dy="-2.8">-1</tspan></text>
<line x1="287.1" y1="269.0" x2="287.1" y2="271.6" stroke="#111" stroke-width="1.1" />
<text x="287.40000000000003" y="279.5" font-size="6.2" text-anchor="middle" fill="#222">10<tspan font-size="4.2" dy="-2.8">0</tspan></text>
<line x1="310.70000000000005" y1="269.0" x2="310.70000000000005" y2="271.6" stroke="#111" stroke-width="1.1" />
<text x="311.00000000000006" y="279.5" font-size="6.2" text-anchor="middle" fill="#222">10<tspan font-size="4.2" dy="-2.8">1</tspan></text>
<line x1="334.3" y1="269.0" x2="334.3" y2="271.6" stroke="#111" stroke-width="1.1" />
<text x="334.6" y="279.5" font-size="6.2" text-anchor="middle" fill="#222">10<tspan font-size="4.2" dy="-2.8">2</tspan></text>
<text x="277.5" y="292.1" font-size="8.0" text-anchor="middle" fill="#222" >[Compound μM]</text>
<text x="0" y="0" font-size="8.5" text-anchor="middle" fill="#222" transform="translate(198.20000000000002,228.6) rotate(-90)">% cell viability</text>
<text x="277.2" y="182.3" font-size="7.5" text-anchor="middle" font-weight="bold" fill="#111" >CCRF-CEM</text>
<path d="M216.3 193.8L239.9 201.7L263.5 197.7L287.1 203.3L310.7 225.4L334.3 269.0" fill="none" stroke="#74ab5a" stroke-width="1.3"/>
<circle cx="216.3" cy="193.8" r="1.2" fill="#74ab5a"/>
<circle cx="239.9" cy="201.7" r="1.2" fill="#74ab5a"/>
<circle cx="263.5" cy="197.7" r="1.2" fill="#74ab5a"/>
<circle cx="287.1" cy="203.3" r="1.2" fill="#74ab5a"/>
<circle cx="310.7" cy="225.4" r="1.2" fill="#74ab5a"/>
<circle cx="334.3" cy="269.0" r="1.2" fill="#74ab5a"/>
<path d="M216.3 193.8L239.9 199.3L263.5 197.7L287.1 205.6L310.7 255.5L334.3 269.0" fill="none" stroke="#74ab5a" stroke-width="1.3" stroke-dasharray="2.6,1.5"/>
<circle cx="216.3" cy="193.8" r="1.2" fill="#74ab5a"/>
<circle cx="239.9" cy="199.3" r="1.2" fill="#74ab5a"/>
<circle cx="263.5" cy="197.7" r="1.2" fill="#74ab5a"/>
<circle cx="287.1" cy="205.6" r="1.2" fill="#74ab5a"/>
<circle cx="310.7" cy="255.5" r="1.2" fill="#74ab5a"/>
<circle cx="334.3" cy="269.0" r="1.2" fill="#74ab5a"/>
<path d="M216.3 192.2L239.9 189.8L263.5 193.8L287.1 189.8L310.7 266.6L334.3 269.0" fill="none" stroke="#74ab5a" stroke-width="1.3" stroke-dasharray="0.9,0.9"/>
<circle cx="216.3" cy="192.2" r="1.2" fill="#74ab5a"/>
<circle cx="239.9" cy="189.8" r="1.2" fill="#74ab5a"/>
<circle cx="263.5" cy="193.8" r="1.2" fill="#74ab5a"/>
<circle cx="287.1" cy="189.8" r="1.2" fill="#74ab5a"/>
<circle cx="310.7" cy="266.6" r="1.2" fill="#74ab5a"/>
<circle cx="334.3" cy="269.0" r="1.2" fill="#74ab5a"/>
<path d="M216.3 195.3L239.9 196.1L263.5 195.3L287.1 210.4L310.7 253.2L334.3 269.0" fill="none" stroke="#74ab5a" stroke-width="1.3" stroke-dasharray="1.5,1.5"/>
<circle cx="216.3" cy="195.3" r="1.2" fill="#74ab5a"/>
<circle cx="239.9" cy="196.1" r="1.2" fill="#74ab5a"/>
<circle cx="263.5" cy="195.3" r="1.2" fill="#74ab5a"/>
<circle cx="287.1" cy="210.4" r="1.2" fill="#74ab5a"/>
<circle cx="310.7" cy="253.2" r="1.2" fill="#74ab5a"/>
<circle cx="334.3" cy="269.0" r="1.2" fill="#74ab5a"/>
<line x1="239.9" y1="199.30400000000003" x2="239.9" y2="204.056" stroke="#222" stroke-width="0.9" />
<line x1="238.70000000000002" y1="199.30400000000003" x2="241.1" y2="199.30400000000003" stroke="#222" stroke-width="0.9" />
<line x1="238.70000000000002" y1="204.056" x2="241.1" y2="204.056" stroke="#222" stroke-width="0.9" />
<line x1="239.9" y1="189.008" x2="239.9" y2="193.76" stroke="#222" stroke-width="0.9" />
<line x1="238.70000000000002" y1="189.008" x2="241.1" y2="189.008" stroke="#222" stroke-width="0.9" />
<line x1="238.70000000000002" y1="193.76" x2="241.1" y2="193.76" stroke="#222" stroke-width="0.9" />
<line x1="263.5" y1="193.76" x2="263.5" y2="198.512" stroke="#222" stroke-width="0.9" />
<line x1="262.3" y1="193.76" x2="264.7" y2="193.76" stroke="#222" stroke-width="0.9" />
<line x1="262.3" y1="198.512" x2="264.7" y2="198.512" stroke="#222" stroke-width="0.9" />
<line x1="287.1" y1="200.888" x2="287.1" y2="205.64000000000001" stroke="#222" stroke-width="0.9" />
<line x1="285.90000000000003" y1="200.888" x2="288.3" y2="200.888" stroke="#222" stroke-width="0.9" />
<line x1="285.90000000000003" y1="205.64000000000001" x2="288.3" y2="205.64000000000001" stroke="#222" stroke-width="0.9" />
<line x1="287.1" y1="208.01600000000002" x2="287.1" y2="212.768" stroke="#222" stroke-width="0.9" />
<line x1="285.90000000000003" y1="208.01600000000002" x2="288.3" y2="208.01600000000002" stroke="#222" stroke-width="0.9" />
<line x1="285.90000000000003" y1="212.768" x2="288.3" y2="212.768" stroke="#222" stroke-width="0.9" />
<line x1="310.70000000000005" y1="223.856" x2="310.70000000000005" y2="227.024" stroke="#222" stroke-width="0.9" />
<line x1="309.50000000000006" y1="223.856" x2="311.90000000000003" y2="223.856" stroke="#222" stroke-width="0.9" />
<line x1="309.50000000000006" y1="227.024" x2="311.90000000000003" y2="227.024" stroke="#222" stroke-width="0.9" />
<line x1="310.70000000000005" y1="252.368" x2="310.70000000000005" y2="258.704" stroke="#222" stroke-width="0.9" />
<line x1="309.50000000000006" y1="252.368" x2="311.90000000000003" y2="252.368" stroke="#222" stroke-width="0.9" />
<line x1="309.50000000000006" y1="258.704" x2="311.90000000000003" y2="258.704" stroke="#222" stroke-width="0.9" />
<line x1="216.3" y1="191.38400000000001" x2="216.3" y2="196.13600000000002" stroke="#222" stroke-width="0.9" />
<line x1="215.10000000000002" y1="191.38400000000001" x2="217.5" y2="191.38400000000001" stroke="#222" stroke-width="0.9" />
<line x1="215.10000000000002" y1="196.13600000000002" x2="217.5" y2="196.13600000000002" stroke="#222" stroke-width="0.9" />
<line x1="388.2" y1="186.7" x2="388.2" y2="269.6" stroke="#111" stroke-width="1.3" />
<line x1="387.59999999999997" y1="269.0" x2="505.7" y2="269.0" stroke="#111" stroke-width="1.3" />
<line x1="385.2" y1="269.0" x2="388.2" y2="269.0" stroke="#111" stroke-width="1.1" />
<text x="382.59999999999997" y="271.3" font-size="6.6" text-anchor="end" fill="#222" >0</text>
<line x1="385.2" y1="249.3" x2="388.2" y2="249.3" stroke="#111" stroke-width="1.1" />
<text x="382.59999999999997" y="251.60000000000002" font-size="6.6" text-anchor="end" fill="#222" >25</text>
<line x1="385.2" y1="229.6" x2="388.2" y2="229.6" stroke="#111" stroke-width="1.1" />
<text x="382.59999999999997" y="231.9" font-size="6.6" text-anchor="end" fill="#222" >50</text>
<line x1="385.2" y1="209.89999999999998" x2="388.2" y2="209.89999999999998" stroke="#111" stroke-width="1.1" />
<text x="382.59999999999997" y="212.2" font-size="6.6" text-anchor="end" fill="#222" >75</text>
<line x1="385.2" y1="190.2" x2="388.2" y2="190.2" stroke="#111" stroke-width="1.1" />
<text x="382.59999999999997" y="192.5" font-size="6.6" text-anchor="end" fill="#222" >100</text>
<line x1="388.2" y1="269.0" x2="388.2" y2="271.6" stroke="#111" stroke-width="1.1" />
<text x="388.5" y="278.5" font-size="6.2" text-anchor="middle" fill="#222">10<tspan font-size="4.2" dy="-2.8">-4</tspan></text>
<line x1="407.7" y1="269.0" x2="407.7" y2="271.6" stroke="#111" stroke-width="1.1" />
<text x="408.0" y="278.5" font-size="6.2" text-anchor="middle" fill="#222">10<tspan font-size="4.2" dy="-2.8">-3</tspan></text>
<line x1="427.2" y1="269.0" x2="427.2" y2="271.6" stroke="#111" stroke-width="1.1" />
<text x="427.5" y="278.5" font-size="6.2" text-anchor="middle" fill="#222">10<tspan font-size="4.2" dy="-2.8">-2</tspan></text>
<line x1="446.7" y1="269.0" x2="446.7" y2="271.6" stroke="#111" stroke-width="1.1" />
<text x="447.0" y="278.5" font-size="6.2" text-anchor="middle" fill="#222">10<tspan font-size="4.2" dy="-2.8">-1</tspan></text>
<line x1="466.2" y1="269.0" x2="466.2" y2="271.6" stroke="#111" stroke-width="1.1" />
<text x="466.5" y="278.5" font-size="6.2" text-anchor="middle" fill="#222">10<tspan font-size="4.2" dy="-2.8">0</tspan></text>
<line x1="485.7" y1="269.0" x2="485.7" y2="271.6" stroke="#111" stroke-width="1.1" />
<text x="486.0" y="278.5" font-size="6.2" text-anchor="middle" fill="#222">10<tspan font-size="4.2" dy="-2.8">1</tspan></text>
<line x1="505.2" y1="269.0" x2="505.2" y2="271.6" stroke="#111" stroke-width="1.1" />
<text x="505.5" y="278.5" font-size="6.2" text-anchor="middle" fill="#222">10<tspan font-size="4.2" dy="-2.8">2</tspan></text>
<text x="447.6" y="290.8" font-size="8.0" text-anchor="middle" fill="#222" >[Compound μM]</text>
<text x="0" y="0" font-size="8.5" text-anchor="middle" fill="#222" transform="translate(369.9,228.6) rotate(-90)">% cell viability</text>
<text x="447.4" y="182.3" font-size="7.5" text-anchor="middle" font-weight="bold" fill="#111" >TALL-1</text>
<path d="M388.2 199.7L407.7 202.0L427.2 202.0L446.7 202.0L466.2 208.3L485.7 217.8L505.2 265.1" fill="none" stroke="#74ab5a" stroke-width="1.3"/>
<circle cx="388.2" cy="199.7" r="1.2" fill="#74ab5a"/>
<circle cx="407.7" cy="202.0" r="1.2" fill="#74ab5a"/>
<circle cx="427.2" cy="202.0" r="1.2" fill="#74ab5a"/>
<circle cx="446.7" cy="202.0" r="1.2" fill="#74ab5a"/>
<circle cx="466.2" cy="208.3" r="1.2" fill="#74ab5a"/>
<circle cx="485.7" cy="217.8" r="1.2" fill="#74ab5a"/>
<circle cx="505.2" cy="265.1" r="1.2" fill="#74ab5a"/>
<path d="M388.2 202.0L407.7 202.0L427.2 202.8L446.7 202.8L466.2 209.9L485.7 221.7L505.2 266.6" fill="none" stroke="#74ab5a" stroke-width="1.3" stroke-dasharray="2.6,1.5"/>
<circle cx="388.2" cy="202.0" r="1.2" fill="#74ab5a"/>
<circle cx="407.7" cy="202.0" r="1.2" fill="#74ab5a"/>
<circle cx="427.2" cy="202.8" r="1.2" fill="#74ab5a"/>
<circle cx="446.7" cy="202.8" r="1.2" fill="#74ab5a"/>
<circle cx="466.2" cy="209.9" r="1.2" fill="#74ab5a"/>
<circle cx="485.7" cy="221.7" r="1.2" fill="#74ab5a"/>
<circle cx="505.2" cy="266.6" r="1.2" fill="#74ab5a"/>
<path d="M388.2 194.9L407.7 199.7L427.2 198.9L446.7 200.4L466.2 208.3L485.7 261.9L505.2 269.0" fill="none" stroke="#74ab5a" stroke-width="1.3" stroke-dasharray="0.9,0.9"/>
<circle cx="388.2" cy="194.9" r="1.2" fill="#74ab5a"/>
<circle cx="407.7" cy="199.7" r="1.2" fill="#74ab5a"/>
<circle cx="427.2" cy="198.9" r="1.2" fill="#74ab5a"/>
<circle cx="446.7" cy="200.4" r="1.2" fill="#74ab5a"/>
<circle cx="466.2" cy="208.3" r="1.2" fill="#74ab5a"/>
<circle cx="485.7" cy="261.9" r="1.2" fill="#74ab5a"/>
<circle cx="505.2" cy="269.0" r="1.2" fill="#74ab5a"/>
<path d="M388.2 201.2L407.7 202.0L427.2 202.8L446.7 202.8L466.2 209.9L485.7 241.4L505.2 267.4" fill="none" stroke="#74ab5a" stroke-width="1.3" stroke-dasharray="1.5,1.5"/>
<circle cx="388.2" cy="201.2" r="1.2" fill="#74ab5a"/>
<circle cx="407.7" cy="202.0" r="1.2" fill="#74ab5a"/>
<circle cx="427.2" cy="202.8" r="1.2" fill="#74ab5a"/>
<circle cx="446.7" cy="202.8" r="1.2" fill="#74ab5a"/>
<circle cx="466.2" cy="209.9" r="1.2" fill="#74ab5a"/>
<circle cx="485.7" cy="241.4" r="1.2" fill="#74ab5a"/>
<circle cx="505.2" cy="267.4" r="1.2" fill="#74ab5a"/>
<line x1="388.2" y1="196.504" x2="388.2" y2="204.384" stroke="#222" stroke-width="0.9" />
<line x1="387.0" y1="196.504" x2="389.4" y2="196.504" stroke="#222" stroke-width="0.9" />
<line x1="387.0" y1="204.384" x2="389.4" y2="204.384" stroke="#222" stroke-width="0.9" />
<line x1="407.7" y1="198.868" x2="407.7" y2="203.596" stroke="#222" stroke-width="0.9" />
<line x1="406.5" y1="198.868" x2="408.9" y2="198.868" stroke="#222" stroke-width="0.9" />
<line x1="406.5" y1="203.596" x2="408.9" y2="203.596" stroke="#222" stroke-width="0.9" />
<line x1="427.2" y1="197.29199999999997" x2="427.2" y2="205.172" stroke="#222" stroke-width="0.9" />
<line x1="426.0" y1="197.29199999999997" x2="428.4" y2="197.29199999999997" stroke="#222" stroke-width="0.9" />
<line x1="426.0" y1="205.172" x2="428.4" y2="205.172" stroke="#222" stroke-width="0.9" />
<line x1="446.7" y1="198.07999999999998" x2="446.7" y2="204.384" stroke="#222" stroke-width="0.9" />
<line x1="445.5" y1="198.07999999999998" x2="447.9" y2="198.07999999999998" stroke="#222" stroke-width="0.9" />
<line x1="445.5" y1="204.384" x2="447.9" y2="204.384" stroke="#222" stroke-width="0.9" />
<line x1="466.2" y1="205.95999999999998" x2="466.2" y2="210.688" stroke="#222" stroke-width="0.9" />
<line x1="465.0" y1="205.95999999999998" x2="467.4" y2="205.95999999999998" stroke="#222" stroke-width="0.9" />
<line x1="465.0" y1="210.688" x2="467.4" y2="210.688" stroke="#222" stroke-width="0.9" />
<line x1="485.7" y1="213.83999999999997" x2="485.7" y2="224.87199999999999" stroke="#222" stroke-width="0.9" />
<line x1="484.5" y1="213.83999999999997" x2="486.9" y2="213.83999999999997" stroke="#222" stroke-width="0.9" />
<line x1="484.5" y1="224.87199999999999" x2="486.9" y2="224.87199999999999" stroke="#222" stroke-width="0.9" />
<line x1="505.2" y1="257.18" x2="505.2" y2="271.364" stroke="#222" stroke-width="0.9" />
<line x1="504.0" y1="257.18" x2="506.4" y2="257.18" stroke="#222" stroke-width="0.9" />
<line x1="504.0" y1="271.364" x2="506.4" y2="271.364" stroke="#222" stroke-width="0.9" />
<text x="91.3" y="310.8" font-size="9.2" font-weight="bold" fill="#111">GI<tspan font-size="6.6" dx="0.3" dy="2.2">50</tspan><tspan dx="0.6" dy="-2.2">:</tspan></text>
<text x="258.2" y="310.8" font-size="9.2" font-weight="bold" fill="#111">GI<tspan font-size="6.6" dx="0.3" dy="2.2">50</tspan><tspan dx="0.6" dy="-2.2">:</tspan></text>
<text x="429.0" y="310.8" font-size="9.2" font-weight="bold" fill="#111">GI<tspan font-size="6.6" dx="0.3" dy="2.2">50</tspan><tspan dx="0.6" dy="-2.2">:</tspan></text>
<text x="33.7" y="332.2" font-size="8.75" text-anchor="start" fill="#161616" >Das &lt;0.1 nM</text>
<text x="106.1" y="332.2" font-size="8.75" text-anchor="start" fill="#161616" >Bos = 4.5 nM</text>
<text x="29.5" y="352.9" font-size="8.75" text-anchor="start" fill="#161616" >Nint = 0.61 μM</text>
<text x="104.7" y="352.9" font-size="8.75" text-anchor="start" fill="#161616" >WH = 0.75 μM</text>
<text x="200.0" y="332.2" font-size="8.75" text-anchor="start" fill="#161616" >Das = 17.49 μM</text>
<text x="272.9" y="332.2" font-size="8.75" text-anchor="start" fill="#161616" >Bos = 5.47 μM</text>
<text x="202.4" y="352.9" font-size="8.75" text-anchor="start" fill="#161616" >Nint = 5.74 μM</text>
<text x="272.9" y="352.9" font-size="8.75" text-anchor="start" fill="#161616" >WH = 3.86 μM</text>
<text x="370.8" y="332.2" font-size="8.75" text-anchor="start" fill="#161616" >Das = 34.26 μM</text>
<text x="439.5" y="332.2" font-size="8.75" text-anchor="start" fill="#161616" >Bos = 22.54 μM</text>
<text x="373.1" y="352.9" font-size="8.75" text-anchor="start" fill="#161616" >Nint = 6.41 μM</text>
<text x="441.8" y="352.9" font-size="8.75" text-anchor="start" fill="#161616" >WH = 4.58 μM</text>
<defs><filter id="b1" x="-30%" y="-150%" width="160%" height="400%"><feGaussianBlur stdDeviation="0.9"/></filter><filter id="b2" x="-30%" y="-150%" width="160%" height="400%"><feGaussianBlur stdDeviation="2.0"/></filter><linearGradient id="gv" x1="0" y1="0" x2="0" y2="1"><stop offset="0" stop-color="#fff" stop-opacity="0.25"/><stop offset="0.5" stop-color="#fff" stop-opacity="0"/><stop offset="1" stop-color="#fff" stop-opacity="0.12"/></linearGradient></defs>
<rect x="22.8" y="431.8" width="112.7" height="15.9" fill="#cacaca"/>
<rect x="22.8" y="431.8" width="112.7" height="15.9" fill="url(#gv)"/>
<rect x="24.8" y="435.9" width="20.7" height="10.1" rx="2" fill="#000" fill-opacity="0.24" filter="url(#b2)"/>
<rect x="24.8" y="440.9" width="20.7" height="6.0" fill="#000" fill-opacity="0.21" filter="url(#b2)"/>
<rect x="24.3" y="439.1" width="21.7" height="3.6" rx="1.8" fill="#000" fill-opacity="0.95" filter="url(#b1)"/>
<rect x="49.3" y="435.9" width="17.5" height="10.1" rx="2" fill="#000" fill-opacity="0.24" filter="url(#b2)"/>
<rect x="49.3" y="440.9" width="17.5" height="6.0" fill="#000" fill-opacity="0.21" filter="url(#b2)"/>
<rect x="48.8" y="439.1" width="18.5" height="3.6" rx="1.8" fill="#000" fill-opacity="0.95" filter="url(#b1)"/>
<rect x="70.7" y="435.9" width="18.8" height="10.1" rx="2" fill="#000" fill-opacity="0.24" filter="url(#b2)"/>
<rect x="70.7" y="440.9" width="18.8" height="6.0" fill="#000" fill-opacity="0.21" filter="url(#b2)"/>
<rect x="70.2" y="439.1" width="19.8" height="3.6" rx="1.8" fill="#000" fill-opacity="0.95" filter="url(#b1)"/>
<rect x="92.5" y="435.9" width="18.5" height="10.1" rx="2" fill="#000" fill-opacity="0.24" filter="url(#b2)"/>
<rect x="92.5" y="440.9" width="18.5" height="6.0" fill="#000" fill-opacity="0.21" filter="url(#b2)"/>
<rect x="92.0" y="439.1" width="19.5" height="3.6" rx="1.8" fill="#000" fill-opacity="0.95" filter="url(#b1)"/>
<rect x="114.5" y="435.9" width="19.5" height="10.1" rx="2" fill="#000" fill-opacity="0.24" filter="url(#b2)"/>
<rect x="114.5" y="440.9" width="19.5" height="6.0" fill="#000" fill-opacity="0.21" filter="url(#b2)"/>
<rect x="114.0" y="439.1" width="20.5" height="3.6" rx="1.8" fill="#000" fill-opacity="0.95" filter="url(#b1)"/>
<rect x="46.5" y="431.8" width="1.6" height="15.9" fill="#fff" fill-opacity="0.55"/>
<rect x="68.3" y="431.8" width="1.6" height="15.9" fill="#fff" fill-opacity="0.55"/>
<rect x="90.2" y="431.8" width="1.6" height="15.9" fill="#fff" fill-opacity="0.55"/>
<rect x="112.2" y="431.8" width="1.6" height="15.9" fill="#fff" fill-opacity="0.55"/>
<rect x="22.8" y="450.3" width="112.7" height="16.1" fill="#e2e2e2"/>
<rect x="22.8" y="450.3" width="112.7" height="16.1" fill="url(#gv)"/>
<rect x="24.8" y="454.7" width="20.7" height="10.6" rx="2" fill="#000" fill-opacity="0.45" filter="url(#b2)"/>
<rect x="24.3" y="458.1" width="21.7" height="3.8" rx="1.9" fill="#000" fill-opacity="1.00" filter="url(#b1)"/>
<rect x="49.3" y="456.0" width="17.5" height="7.0" rx="2" fill="#000" fill-opacity="0.06" filter="url(#b2)"/>
<rect x="48.8" y="458.2" width="18.5" height="2.5" rx="1.2" fill="#000" fill-opacity="0.16" filter="url(#b1)"/>
<rect x="70.7" y="456.0" width="18.8" height="7.0" rx="2" fill="#000" fill-opacity="0.02" filter="url(#b2)"/>
<rect x="70.2" y="458.2" width="19.8" height="2.5" rx="1.2" fill="#000" fill-opacity="0.06" filter="url(#b1)"/>
<rect x="92.5" y="456.0" width="18.5" height="7.0" rx="2" fill="#000" fill-opacity="0.03" filter="url(#b2)"/>
<rect x="92.0" y="458.2" width="19.5" height="2.5" rx="1.2" fill="#000" fill-opacity="0.10" filter="url(#b1)"/>
<rect x="114.5" y="456.0" width="19.5" height="7.0" rx="2" fill="#000" fill-opacity="0.05" filter="url(#b2)"/>
<rect x="114.0" y="458.2" width="20.5" height="2.5" rx="1.2" fill="#000" fill-opacity="0.13" filter="url(#b1)"/>
<rect x="46.5" y="450.3" width="1.6" height="16.1" fill="#fff" fill-opacity="0.55"/>
<rect x="68.3" y="450.3" width="1.6" height="16.1" fill="#fff" fill-opacity="0.55"/>
<rect x="90.2" y="450.3" width="1.6" height="16.1" fill="#fff" fill-opacity="0.55"/>
<rect x="112.2" y="450.3" width="1.6" height="16.1" fill="#fff" fill-opacity="0.55"/>
<rect x="22.8" y="468.9" width="112.7" height="14.3" fill="#ececec"/>
<rect x="22.8" y="468.9" width="112.7" height="14.3" fill="url(#gv)"/>
<rect x="24.8" y="467.9" width="20.7" height="14.0" rx="2" fill="#000" fill-opacity="0.50" filter="url(#b2)"/>
<rect x="24.3" y="472.4" width="21.7" height="5.0" rx="2.5" fill="#000" fill-opacity="1.00" filter="url(#b1)"/>
<rect x="49.3" y="472.0" width="17.5" height="8.4" rx="2" fill="#000" fill-opacity="0.16" filter="url(#b2)"/>
<rect x="48.8" y="474.7" width="18.5" height="3.0" rx="1.5" fill="#000" fill-opacity="0.45" filter="url(#b1)"/>
<rect x="114.5" y="473.0" width="19.5" height="7.0" rx="2" fill="#000" fill-opacity="0.04" filter="url(#b2)"/>
<rect x="114.0" y="475.2" width="20.5" height="2.5" rx="1.2" fill="#000" fill-opacity="0.12" filter="url(#b1)"/>
<rect x="46.5" y="468.9" width="1.6" height="14.3" fill="#fff" fill-opacity="0.55"/>
<rect x="68.3" y="468.9" width="1.6" height="14.3" fill="#fff" fill-opacity="0.55"/>
<rect x="90.2" y="468.9" width="1.6" height="14.3" fill="#fff" fill-opacity="0.55"/>
<rect x="112.2" y="468.9" width="1.6" height="14.3" fill="#fff" fill-opacity="0.55"/>
<rect x="22.8" y="485.2" width="112.7" height="15.8" fill="#d0d0d0"/>
<rect x="22.8" y="485.2" width="112.7" height="15.8" fill="url(#gv)"/>
<rect x="24.8" y="488.6" width="20.7" height="11.2" rx="2" fill="#000" fill-opacity="0.30" filter="url(#b2)"/>
<rect x="24.3" y="492.2" width="21.7" height="4.0" rx="2.0" fill="#000" fill-opacity="1.00" filter="url(#b1)"/>
<rect x="49.3" y="488.6" width="17.5" height="11.2" rx="2" fill="#000" fill-opacity="0.30" filter="url(#b2)"/>
<rect x="48.8" y="492.2" width="18.5" height="4.0" rx="2.0" fill="#000" fill-opacity="1.00" filter="url(#b1)"/>
<rect x="70.7" y="488.6" width="18.8" height="11.2" rx="2" fill="#000" fill-opacity="0.30" filter="url(#b2)"/>
<rect x="70.2" y="492.2" width="19.8" height="4.0" rx="2.0" fill="#000" fill-opacity="1.00" filter="url(#b1)"/>
<rect x="92.5" y="488.6" width="18.5" height="11.2" rx="2" fill="#000" fill-opacity="0.30" filter="url(#b2)"/>
<rect x="92.0" y="492.2" width="19.5" height="4.0" rx="2.0" fill="#000" fill-opacity="1.00" filter="url(#b1)"/>
<rect x="114.5" y="488.6" width="19.5" height="11.2" rx="2" fill="#000" fill-opacity="0.30" filter="url(#b2)"/>
<rect x="114.0" y="492.2" width="20.5" height="4.0" rx="2.0" fill="#000" fill-opacity="1.00" filter="url(#b1)"/>
<rect x="46.5" y="485.2" width="1.6" height="15.8" fill="#fff" fill-opacity="0.55"/>
<rect x="68.3" y="485.2" width="1.6" height="15.8" fill="#fff" fill-opacity="0.55"/>
<rect x="90.2" y="485.2" width="1.6" height="15.8" fill="#fff" fill-opacity="0.55"/>
<rect x="112.2" y="485.2" width="1.6" height="15.8" fill="#fff" fill-opacity="0.55"/>
<text x="139.3" y="444.3" font-size="7.6" text-anchor="start" fill="#222" >LCK</text>
<text x="139.3" y="462.0" font-size="7.6" text-anchor="start" fill="#222" >LCK Y505</text>
<text x="139.3" y="479.5" font-size="7.6" text-anchor="start" fill="#222" >Src Y416</text>
<text x="139.3" y="495.8" font-size="7.6" text-anchor="start" fill="#222" >β-Actin</text>
<text x="0" y="0" font-size="7.5" fill="#222" transform="translate(35.800000000000004,428.8) rotate(-90)">Ctrl</text>
<text x="0" y="0" font-size="7.5" fill="#222" transform="translate(58.6,428.8) rotate(-90)">Dasatinib</text>
<text x="0" y="0" font-size="7.5" fill="#222" transform="translate(78.6,428.8) rotate(-90)">Bosutinib</text>
<text x="0" y="0" font-size="7.5" fill="#222" transform="translate(100.39999999999999,428.8) rotate(-90)">Nintedanib</text>
<text x="0" y="0" font-size="7.5" fill="#222" transform="translate(123.69999999999999,428.8) rotate(-90)">WH-4-023</text>
<rect x="187.0" y="433.1" width="122.0" height="13.2" fill="#c8c8c8"/>
<rect x="187.0" y="433.1" width="122.0" height="13.2" fill="url(#gv)"/>
<rect x="191.9" y="433.6" width="17.7" height="12.9" rx="2" fill="#000" fill-opacity="0.35" filter="url(#b2)"/>
<rect x="191.4" y="437.7" width="18.7" height="4.6" rx="2.3" fill="#000" fill-opacity="1.00" filter="url(#b1)"/>
<rect x="218.0" y="433.8" width="11.7" height="12.3" rx="2" fill="#000" fill-opacity="0.35" filter="url(#b2)"/>
<rect x="217.5" y="437.8" width="12.7" height="4.4" rx="2.2" fill="#000" fill-opacity="1.00" filter="url(#b1)"/>
<rect x="239.0" y="433.4" width="14.0" height="12.3" rx="2" fill="#000" fill-opacity="0.35" filter="url(#b2)"/>
<rect x="238.5" y="437.4" width="15.0" height="4.4" rx="2.2" fill="#000" fill-opacity="1.00" filter="url(#b1)"/>
<rect x="262.7" y="433.0" width="17.8" height="12.9" rx="2" fill="#000" fill-opacity="0.35" filter="url(#b2)"/>
<rect x="262.2" y="437.1" width="18.8" height="4.6" rx="2.3" fill="#000" fill-opacity="1.00" filter="url(#b1)"/>
<rect x="291.7" y="433.5" width="12.9" height="11.8" rx="2" fill="#000" fill-opacity="0.32" filter="url(#b2)"/>
<rect x="291.2" y="437.3" width="13.9" height="4.2" rx="2.1" fill="#000" fill-opacity="0.90" filter="url(#b1)"/>
<rect x="187.0" y="449.4" width="122.0" height="14.4" fill="#e3e3e3"/>
<rect x="187.0" y="449.4" width="122.0" height="14.4" fill="url(#gv)"/>
<rect x="191.9" y="450.2" width="17.7" height="12.3" rx="2" fill="#000" fill-opacity="0.30" filter="url(#b2)"/>
<rect x="191.4" y="454.2" width="18.7" height="4.4" rx="2.2" fill="#000" fill-opacity="1.00" filter="url(#b1)"/>
<rect x="218.0" y="453.4" width="11.7" height="6.7" rx="2" fill="#000" fill-opacity="0.06" filter="url(#b2)"/>
<rect x="217.5" y="455.6" width="12.7" height="2.4" rx="1.2" fill="#000" fill-opacity="0.18" filter="url(#b1)"/>
<rect x="239.5" y="452.9" width="12.5" height="6.7" rx="2" fill="#000" fill-opacity="0.07" filter="url(#b2)"/>
<rect x="239.0" y="455.1" width="13.5" height="2.4" rx="1.2" fill="#000" fill-opacity="0.20" filter="url(#b1)"/>
<rect x="262.7" y="452.6" width="15.8" height="7.3" rx="2" fill="#000" fill-opacity="0.08" filter="url(#b2)"/>
<rect x="262.2" y="454.9" width="16.8" height="2.6" rx="1.3" fill="#000" fill-opacity="0.22" filter="url(#b1)"/>
<rect x="292.5" y="452.6" width="9.5" height="6.7" rx="2" fill="#000" fill-opacity="0.05" filter="url(#b2)"/>
<rect x="292.0" y="454.8" width="10.5" height="2.4" rx="1.2" fill="#000" fill-opacity="0.15" filter="url(#b1)"/>
<rect x="187.0" y="466.6" width="122.0" height="15.1" fill="#ededed"/>
<rect x="187.0" y="466.6" width="122.0" height="15.1" fill="url(#gv)"/>
<rect x="190.7" y="466.4" width="18.6" height="15.7" rx="2" fill="#000" fill-opacity="0.25" filter="url(#b2)"/>
<rect x="190.2" y="471.4" width="19.6" height="5.6" rx="2.8" fill="#000" fill-opacity="1.00" filter="url(#b1)"/>
<rect x="187.0" y="485.0" width="122.0" height="16.5" fill="#d0d0d0"/>
<rect x="187.0" y="485.0" width="122.0" height="16.5" fill="url(#gv)"/>
<rect x="190.7" y="488.4" width="17.4" height="12.9" rx="2" fill="#000" fill-opacity="0.35" filter="url(#b2)"/>
<rect x="190.2" y="492.5" width="18.4" height="4.6" rx="2.3" fill="#000" fill-opacity="1.00" filter="url(#b1)"/>
<rect x="216.0" y="488.7" width="14.3" height="14.6" rx="2" fill="#000" fill-opacity="0.35" filter="url(#b2)"/>
<rect x="215.5" y="493.4" width="15.3" height="5.2" rx="2.6" fill="#000" fill-opacity="1.00" filter="url(#b1)"/>
<rect x="239.1" y="486.2" width="14.6" height="15.1" rx="2" fill="#000" fill-opacity="0.35" filter="url(#b2)"/>
<rect x="238.6" y="491.1" width="15.6" height="5.4" rx="2.7" fill="#000" fill-opacity="1.00" filter="url(#b1)"/>
<rect x="262.8" y="485.8" width="21.7" height="14.0" rx="2" fill="#000" fill-opacity="0.35" filter="url(#b2)"/>
<rect x="262.3" y="490.3" width="22.7" height="5.0" rx="2.5" fill="#000" fill-opacity="1.00" filter="url(#b1)"/>
<rect x="292.8" y="485.4" width="13.8" height="12.9" rx="2" fill="#000" fill-opacity="0.35" filter="url(#b2)"/>
<rect x="292.3" y="489.5" width="14.8" height="4.6" rx="2.3" fill="#000" fill-opacity="1.00" filter="url(#b1)"/>
<text x="310.6" y="443.6" font-size="7.6" text-anchor="start" fill="#222" >LCK</text>
<text x="310.6" y="462.8" font-size="7.6" text-anchor="start" fill="#222" >LCK Y505</text>
<text x="310.6" y="480.6" font-size="7.6" text-anchor="start" fill="#222" >Src Y416</text>
<text x="310.6" y="498.1" font-size="7.6" text-anchor="start" fill="#222" >β-Actin</text>
<text x="0" y="0" font-size="7.5" fill="#222" transform="translate(196.79999999999998,429.5) rotate(-90)">Ctrl</text>
<text x="0" y="0" font-size="7.5" fill="#222" transform="translate(221.7,429.5) rotate(-90)">Dasatinib</text>
<text x="0" y="0" font-size="7.5" fill="#222" transform="translate(245.5,429.5) rotate(-90)">Bosutinib</text>
<text x="0" y="0" font-size="7.5" fill="#222" transform="translate(270.90000000000003,429.5) rotate(-90)">Nintedanib</text>
<text x="0" y="0" font-size="7.5" fill="#222" transform="translate(294.70000000000005,429.5) rotate(-90)">WH-4-023</text>
<rect x="357.5" y="433.1" width="99.5" height="15.5" fill="#d3d3d3"/>
<rect x="357.5" y="433.1" width="99.5" height="15.5" fill="url(#gv)"/>
<rect x="358.7" y="434.4" width="14.5" height="10.1" rx="2" fill="#000" fill-opacity="0.35" filter="url(#b2)"/>
<rect x="358.2" y="437.6" width="15.5" height="3.6" rx="1.8" fill="#000" fill-opacity="1.00" filter="url(#b1)"/>
<rect x="379.4" y="436.3" width="12.5" height="9.0" rx="2" fill="#000" fill-opacity="0.24" filter="url(#b2)"/>
<rect x="378.9" y="439.2" width="13.5" height="3.2" rx="1.6" fill="#000" fill-opacity="0.70" filter="url(#b1)"/>
<rect x="398.1" y="436.6" width="13.6" height="8.4" rx="2" fill="#000" fill-opacity="0.16" filter="url(#b2)"/>
<rect x="397.6" y="439.3" width="14.6" height="3.0" rx="1.5" fill="#000" fill-opacity="0.45" filter="url(#b1)"/>
<rect x="418.5" y="434.1" width="13.9" height="10.6" rx="2" fill="#000" fill-opacity="0.35" filter="url(#b2)"/>
<rect x="418.0" y="437.5" width="14.9" height="3.8" rx="1.9" fill="#000" fill-opacity="1.00" filter="url(#b1)"/>
<rect x="438.6" y="436.0" width="14.6" height="9.5" rx="2" fill="#000" fill-opacity="0.26" filter="url(#b2)"/>
<rect x="438.1" y="439.1" width="15.6" height="3.4" rx="1.7" fill="#000" fill-opacity="0.75" filter="url(#b1)"/>
<rect x="378.9" y="444.0" width="13.5" height="2.0" rx="1.0" fill="#000" fill-opacity="0.15" filter="url(#b1)"/>
<rect x="397.6" y="444.0" width="14.6" height="2.0" rx="1.0" fill="#000" fill-opacity="0.12" filter="url(#b1)"/>
<rect x="418.0" y="444.0" width="14.9" height="2.0" rx="1.0" fill="#000" fill-opacity="0.12" filter="url(#b1)"/>
<rect x="438.1" y="444.0" width="15.6" height="2.0" rx="1.0" fill="#000" fill-opacity="0.15" filter="url(#b1)"/>
<rect x="357.5" y="450.8" width="99.5" height="15.5" fill="#e3e3e3"/>
<rect x="357.5" y="450.8" width="99.5" height="15.5" fill="url(#gv)"/>
<rect x="358.7" y="454.1" width="15.8" height="10.1" rx="2" fill="#000" fill-opacity="0.20" filter="url(#b2)"/>
<rect x="358.2" y="457.3" width="16.8" height="3.6" rx="1.8" fill="#000" fill-opacity="1.00" filter="url(#b1)"/>
<rect x="418.5" y="454.0" width="13.0" height="7.3" rx="2" fill="#000" fill-opacity="0.11" filter="url(#b2)"/>
<rect x="418.0" y="456.3" width="14.0" height="2.6" rx="1.3" fill="#000" fill-opacity="0.32" filter="url(#b1)"/>
<rect x="440.5" y="454.7" width="11.0" height="6.2" rx="2" fill="#000" fill-opacity="0.05" filter="url(#b2)"/>
<rect x="440.0" y="456.7" width="12.0" height="2.2" rx="1.1" fill="#000" fill-opacity="0.13" filter="url(#b1)"/>
<rect x="357.5" y="469.7" width="99.5" height="16.0" fill="#e0e0e0"/>
<rect x="357.5" y="469.7" width="99.5" height="16.0" fill="url(#gv)"/>
<rect x="359.7" y="473.4" width="14.6" height="10.9" rx="2" fill="#000" fill-opacity="0.25" filter="url(#b2)"/>
<rect x="359.2" y="476.9" width="15.6" height="3.9" rx="1.9" fill="#000" fill-opacity="1.00" filter="url(#b1)"/>
<rect x="357.5" y="488.4" width="99.5" height="15.2" fill="#d9d9d9"/>
<rect x="357.5" y="488.4" width="99.5" height="15.2" fill="url(#gv)"/>
<rect x="359.1" y="489.4" width="14.1" height="15.7" rx="2" fill="#000" fill-opacity="0.35" filter="url(#b2)"/>
<rect x="358.6" y="494.4" width="15.1" height="5.6" rx="2.8" fill="#000" fill-opacity="1.00" filter="url(#b1)"/>
<rect x="379.8" y="490.4" width="12.1" height="15.1" rx="2" fill="#000" fill-opacity="0.35" filter="url(#b2)"/>
<rect x="379.3" y="495.3" width="13.1" height="5.4" rx="2.7" fill="#000" fill-opacity="1.00" filter="url(#b1)"/>
<rect x="400.2" y="491.9" width="12.5" height="11.2" rx="2" fill="#000" fill-opacity="0.35" filter="url(#b2)"/>
<rect x="399.7" y="495.5" width="13.5" height="4.0" rx="2.0" fill="#000" fill-opacity="1.00" filter="url(#b1)"/>
<rect x="421.4" y="488.9" width="13.1" height="15.1" rx="2" fill="#000" fill-opacity="0.35" filter="url(#b2)"/>
<rect x="420.9" y="493.8" width="14.1" height="5.4" rx="2.7" fill="#000" fill-opacity="1.00" filter="url(#b1)"/>
<rect x="442.1" y="489.2" width="12.7" height="14.6" rx="2" fill="#000" fill-opacity="0.35" filter="url(#b2)"/>
<rect x="441.6" y="493.9" width="13.7" height="5.2" rx="2.6" fill="#000" fill-opacity="1.00" filter="url(#b1)"/>
<text x="464.5" y="444.3" font-size="7.6" text-anchor="start" fill="#222" >LCK</text>
<text x="464.5" y="463.1" font-size="7.6" text-anchor="start" fill="#222" >LCK Y505</text>
<text x="464.5" y="481.3" font-size="7.6" text-anchor="start" fill="#222" >Src Y416</text>
<text x="464.5" y="499.1" font-size="7.6" text-anchor="start" fill="#222" >β-Actin</text>
<text x="0" y="0" font-size="7.5" fill="#222" transform="translate(368.40000000000003,430.8) rotate(-90)">Ctrl</text>
<text x="0" y="0" font-size="7.5" fill="#222" transform="translate(390.0,430.8) rotate(-90)">Dasatinib</text>
<text x="0" y="0" font-size="7.5" fill="#222" transform="translate(409.0,430.8) rotate(-90)">Bosutinib</text>
<text x="0" y="0" font-size="7.5" fill="#222" transform="translate(430.20000000000005,430.8) rotate(-90)">Nintedanib</text>
<text x="0" y="0" font-size="7.5" fill="#222" transform="translate(450.40000000000003,430.8) rotate(-90)">WH-4-023</text>
</g>
</svg>
</body></html>
